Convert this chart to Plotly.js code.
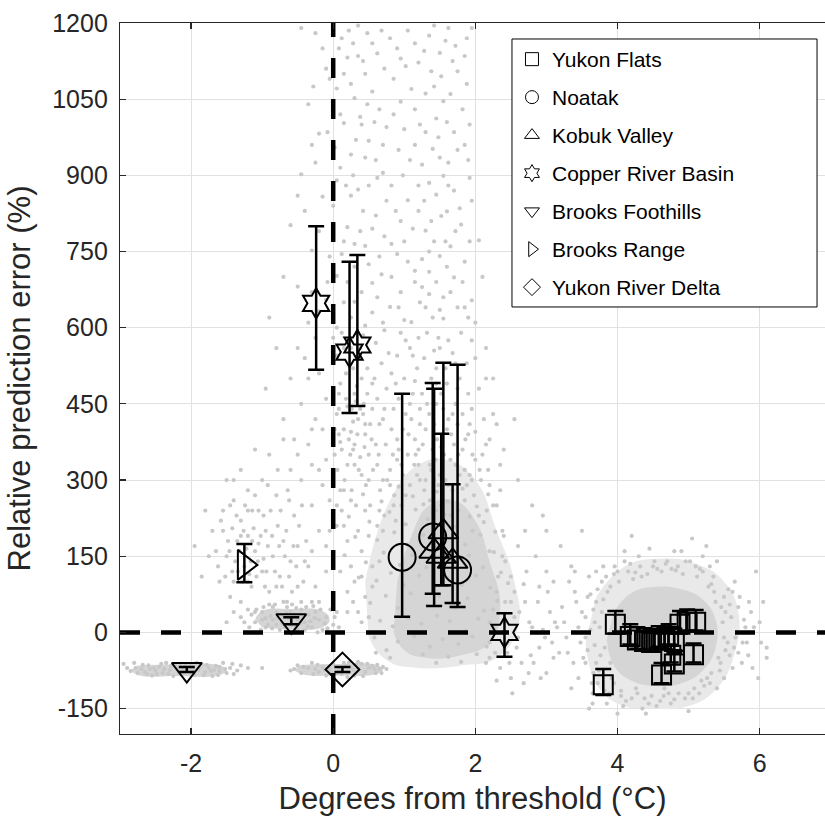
<!DOCTYPE html>
<html>
<head>
<meta charset="utf-8">
<script src="https://cdn.plot.ly/plotly-3.0.1.min.js"></script>
<style>html,body{margin:0;padding:0;background:#fff;overflow:hidden;}</style>
</head>
<body>
<div id="chart" style="width:825px;height:819px;"></div>
<script>
// ---------- DATA ----------
const regionNames = ["Yukon Flats","Noatak","Kobuk Valley","Copper River Basin","Brooks Foothills","Brooks Range","Yukon River Delta"];

// Yukon Flats (squares)
const yfX = [3.97, 3.80, 4.18, 4.28, 4.38, 4.48, 4.58, 4.66, 4.72, 4.80, 4.88, 4.98, 5.10, 5.07, 4.62, 4.80, 4.75];
const yfY = [16, -103, -8, -15, -18, -20, -12, -15, -8, -18, 16, 20, 20, -44, -84, -62, -45];
const yfUp = [26, 31, 24, 25, 26, 25, 24, 26, 24, 25, 26, 25, 24, 22, 24, 22, 20];
const yfLo = [18, 20, 16, 17, 16, 17, 16, 18, 16, 17, 18, 16, 16, 15, 16, 15, 14];

// Noatak (circles)
const noX = [0.97, 1.40, 1.75];
const noY = [148, 188, 123];
const noUp = [322, 303, 404];
const noLo = [117, 112, 73];

// Kobuk Valley (triangles up)
const kvX = [1.42, 1.55, 1.52, 1.68];
const kvY = [160, 198, 150, 140];
const kvUp = [320, 333, 241, 152];
const kvLo = [108, 105, 57, 82];

// Copper River Basin (six-pointed stars)
const crX = [-0.24, 0.23, 0.34, 2.41];
const crY = [648, 552, 566, 0];
const crUp = [152, 178, 177, 38];
const crLo = [131, 120, 120, 48];

// Brooks Foothills (triangles down)
const bfX = [-2.06, -0.59];
const bfY = [-73, 23];
const bfErr = [5, 7];

// Brooks Range (triangle right)
const brX = [-1.25];
const brY = [133];
const brUp = [41];
const brLo = [34];

// Yukon River Delta (diamond)
const ydX = [0.13];
const ydY = [-73];
const ydErr = [5];

// Background grey point cloud (estimated positions)
const cloudUpper = [
 [-0.25,1180],[0.12,1170],[0.35,1195],[0.55,1160],[1.05,1185],[1.35,1175],[1.62,1190],[1.88,1170],[0.2,1132],[-0.1,1110],
 [0.45,1100],[1.2,1122],[1.5,1141],[1.75,1105],[0.05,1071],[0.3,1052],[-0.35,1040],[0.65,1030],[1.3,1061],[1.55,1046],
 [1.45,1012],[0.15,1003],[-0.2,982],[0.5,968],[1.0,991],[1.7,985],[1.4,952],[0.25,941],[0.1,915],[-0.45,902],
 [0.7,905],[1.25,921],[1.55,899],[1.9,930],[0.35,872],[-0.15,858],[1.05,851],[1.45,862],[1.6,829],[0.6,821],
 [-0.6,802],[0.2,798],[1.3,791],[1.8,803],[2.05,772],[0.45,761],[-0.3,752],[0.9,745],[1.5,741],[1.15,712],
 [0.05,702],[0.55,688],[1.7,699],[-0.5,681],[1.35,666],[0.3,651],[1.95,654],[0.8,641],[-0.2,632],[1.55,618],
 [1.1,611],[0.45,604],[0.08,1150],[0.42,1125],[1.52,1095],[1.48,975],[0.38,1015],[0.02,955],[1.62,925],[0.18,880],
 [1.38,810],[0.72,780],[1.58,770],[0.12,745],[1.25,735],[-0.08,690],[1.45,690],[0.95,670],[0.62,660],[1.85,640],
 [0.22,1185],[0.48,1180],[0.8,1170],[1.15,1160],[1.42,1195],[1.72,1155],[0.62,1140],[0.95,1130],[1.28,1145],[1.85,1135],
 [-0.05,1090],[0.25,1080],[0.55,1065],[0.85,1090],[1.1,1070],[1.65,1060],[1.82,1030],[0.4,1000],[0.75,995],[1.22,1000],
 [1.92,1000],[-0.3,960],[0.6,930],[0.92,950],[1.15,960],[1.75,950],[0.28,900],[0.5,880],[0.82,880],[1.35,885],
 [1.7,870],[0.0,840],[0.42,830],[0.75,850],[1.2,830],[1.95,850],[-0.4,830],[0.15,770],[0.38,790],[0.65,740],
 [1.0,770],[1.42,770],[1.65,760],[1.85,730],[0.3,720],[0.82,700],[1.25,680],[1.55,660],[0.15,650],[0.7,610],
 [1.4,620],[1.75,640],[2.0,610],[-0.35,610],[-0.7,700],[-0.9,620],
 [-0.45,1190],[-0.15,1150],[0.28,1160],[0.68,1185],[0.9,1150],[1.58,1165],[1.95,1190],[0.15,1100],[0.35,1135],[0.72,1110],
 [1.02,1115],[1.38,1105],[1.68,1125],[-0.28,1075],[0.48,1040],[0.95,1045],[1.15,1030],[1.42,1075],[1.88,1080],[0.1,1020],
 [0.58,1005],[0.85,1020],[1.3,985],[1.6,1005],[-0.08,985],[0.32,970],[0.7,960],[1.08,930],[1.5,935],[1.85,960],
 [0.45,935],[-0.25,925],[0.05,890],[0.62,895],[0.98,900],[1.2,880],[1.62,880],[1.92,895],[0.25,860],[-0.5,860],
 [0.88,830],[1.28,850],[1.52,820],[1.78,835],[0.55,795],[0.95,810],[1.12,795],[1.72,790],[-0.2,790],[0.3,765],
 [0.82,765],[1.35,750],[1.92,770],[-0.05,740],[0.5,725],[1.05,730],[1.6,720],[2.1,700],[0.2,690],[0.68,705],
 [1.15,690],[1.35,710],[1.82,690],[-0.3,670],[0.4,670],[0.92,640],[1.22,650],[1.65,670],[0.55,630],[1.0,615],
 [1.3,640],[1.5,635],[1.9,620],[0.25,620],[-0.1,655]
];
const cloudMid = [
 [-0.8,560],[-0.4,540],[0.0,580],[0.25,560],[0.6,570],[0.9,545],[1.2,580],[1.5,560],[1.8,590],[2.0,540],
 [-0.95,480],[-0.6,500],[-0.2,510],[0.1,490],[0.3,470],[0.4,500],[0.2,445],[0.35,420],[0.15,400],[0.45,390],
 [0.3,370],[0.55,440],[0.75,480],[1.0,500],[1.25,470],[1.6,490],[1.9,470],[2.15,500],[-0.7,420],[-0.3,400],
 [0.05,430],[0.65,410],[0.9,380],[1.1,420],[1.3,400],[1.55,440],[1.75,410],[2.0,395],[-0.5,350],[-0.1,340],
 [0.2,330],[0.5,350],[0.8,320],[1.05,350],[1.2,330],[1.4,360],[1.65,340],[1.85,320],[2.1,350],[0.4,310],
 [0.7,300],[1.3,300],[1.5,310],[1.95,300],[0.25,395],[0.32,455],[0.42,430],[0.22,380],[0.38,345],[0.28,415],
 [0.48,470],[0.12,360],[1.45,520],[1.35,430],[1.15,380],[1.7,370],[0.85,440],[2.25,430],[2.4,360],[2.6,300],
 [2.8,250],[2.35,280],[3.0,200],[2.55,420],[-0.15,290],[-0.05,260],
 [0.05,600],[0.15,560],[0.28,520],[0.36,540],[0.48,520],[0.58,500],[0.68,530],[0.82,510],[0.95,590],[1.08,560],
 [1.18,520],[1.28,540],[1.38,500],[1.48,580],[1.58,520],[1.68,550],[1.78,500],[1.88,530],[2.05,480],[0.08,470],
 [0.18,460],[0.26,440],[0.33,485],[0.43,450],[0.52,410],[0.62,460],[0.72,440],[0.82,400],[0.92,460],[1.02,430],
 [1.12,470],[1.22,440],[1.32,450],[1.42,410],[1.52,470],[1.62,420],[1.72,450],[1.82,430],[1.92,410],[2.12,420],
 [0.02,400],[0.1,375],[0.24,350],[0.34,390],[0.44,365],[0.54,380],[0.64,350],[0.74,370],[0.84,350],[0.96,330],
 [1.06,390],[1.16,350],[1.26,370],[1.36,330],[1.46,380],[1.56,350],[1.66,390],[1.76,350],[1.86,380],[1.96,350],
 [2.06,320],[2.2,380],[0.06,320],[0.16,300],[0.26,280],[0.36,320],[0.46,290],[0.56,320],[0.66,280],[0.76,300],
 [0.86,270],[0.98,310],[1.08,290],[1.18,310],[1.28,280],[1.38,320],[1.48,290],[1.58,300],[1.68,280],[1.78,310],
 [1.88,290],[1.98,270],[2.08,300],[2.18,320],[2.3,250],
 [-0.25,580],[0.12,590],[0.42,585],[0.72,595],[1.02,575],[1.32,590],[1.62,575],[1.95,575],[-0.5,560],[0.05,545],
 [0.38,560],[0.78,550],[1.12,545],[1.42,555],[1.72,530],[2.15,560],[-0.35,500],[0.18,510],[0.55,490],[0.88,490],
 [1.15,495],[1.45,490],[1.75,480],[2.25,500],[-0.45,450],[-0.1,460],[0.08,440],[0.38,440],[0.7,420],[1.08,450],
 [1.45,450],[1.68,430],[1.95,440],[-0.25,420],[0.45,410],[0.98,400],[1.22,410],[1.6,400],[1.9,390],[2.3,410],
 [-0.35,370],[0.08,390],[0.28,360],[0.6,370],[0.92,360],[1.2,360],[1.52,365],[1.82,360],[2.15,370],[-0.2,320],
 [0.02,350],[0.3,330],[0.62,330],[0.9,340],[1.14,330],[1.44,340],[1.72,330],[2.0,340],[2.35,330],[0.15,280],
 [0.5,300],[0.8,290],[1.02,270],[1.22,300],[1.42,300],[1.62,290],[1.92,310],[2.2,290],[0.05,250],[0.25,260],
 [0.45,240],[0.65,240],[0.85,250],[1.45,240],[1.65,230],[1.85,260],[2.05,230],[2.25,250],[-0.05,200],[0.15,210],
 [0.35,200],[0.5,190],[0.7,200],[0.1,120],[0.25,130],[0.4,110],[0.55,90],[0.65,140],[0.2,80],[0.35,40],[0.5,30]
];
const cloudLow = [
 [0.1,280],[0.42,272],[0.68,258],[0.92,287],[1.12,268],[1.27,252],[1.46,277],[1.61,258],[1.82,283],[2.02,248],[2.18,272],
 [0.22,228],[0.51,218],[0.79,237],[1.02,213],[1.16,242],[1.33,223],[1.57,232],[1.71,208],[1.92,228],[2.12,217],[2.28,198],
 [0.31,188],[0.62,182],[0.86,197],[1.04,173],[1.27,192],[1.44,168],[1.66,187],[1.86,173],[2.07,192],[2.26,158],
 [0.16,152],[0.46,138],[0.71,157],[0.94,133],[1.11,152],[1.31,128],[1.52,147],[1.71,128],[1.91,152],[2.11,128],[2.36,118],
 [0.36,108],[0.61,102],[0.81,117],[0.99,93],[1.21,112],[1.41,88],[1.61,107],[1.81,93],[2.01,112],[2.21,88],[2.46,97],
 [0.52,58],[0.74,72],[0.91,48],[1.09,77],[1.32,53],[1.49,72],[1.72,48],[1.89,67],[2.12,43],[2.31,62],
 [0.66,23],[0.84,12],[1.06,28],[1.24,17],[1.46,33],[1.64,22],[1.86,3],[2.04,27],[2.26,8],
 [0.91,-18],[1.14,-8],[1.36,-28],[1.54,-13],[1.76,-23],[1.96,-8],[2.16,-28],[1.26,-43],[1.62,-48],[2.02,-43],
 [0.05,210],[-0.1,170],[0.28,60],[0.4,20],[0.58,-10],[0.75,-35],[2.4,20],[2.2,-50],[1.45,-60],[1.8,-58],
 [0.12,240],[0.32,250],[0.52,250],[0.62,210],[0.72,230],[0.88,220],[0.96,250],[1.36,260],[1.52,250],[1.76,240],
 [1.96,200],[2.16,240],[2.38,200],[2.42,140],[2.5,60],[0.2,180],[0.4,160],[0.55,130],[0.3,100],[0.45,70],
 [0.2,40],[0.6,-40],[0.8,-50],[2.45,-20]
];
const cloudStar = [
 [2.3,80],[2.5,110],[2.7,60],[2.9,90],[2.55,30],[2.8,10],[2.2,-20],[2.45,-40],[2.65,-60],[2.9,-30],
 [3.05,40],[2.35,-70],[2.6,-10],[2.75,-80],[3.1,-50],[2.15,-60],[2.5,-90],[3.0,120],[2.85,150],[2.6,170],
 [2.25,45],[2.68,95],[2.95,5],[2.38,150],[2.78,-45],[2.52,-120],[3.15,10],[2.3,-95],
 [2.2,20],[2.28,-40],[2.32,110],[2.42,60],[2.48,-60],[2.55,80],[2.58,-30],[2.62,40],[2.68,-100],[2.72,120],
 [2.76,20],[2.82,-60],[2.88,60],[2.92,-90],[2.98,-10],[3.02,80],[3.08,-20],[2.4,190],[2.7,200],[2.2,160],[2.95,230]
];
const cloudEast = [
 [3.25,20],[3.3,-40],[3.4,80],[3.45,-90],[3.5,40],[3.55,-10],[3.6,110],[3.65,-120],[3.7,60],[3.7,-60],
 [3.75,10],[3.8,130],[3.85,-140],[3.9,90],[3.95,-100],[4.0,120],[4.1,140],[4.2,-130],[4.3,150],[4.35,-150],
 [4.5,130],[4.55,-145],[4.7,140],[4.75,-140],[4.9,160],[4.95,-130],[5.1,130],[5.15,-120],[5.25,170],[5.3,-100],
 [5.35,110],[5.45,-60],[5.5,70],[5.55,-20],[5.6,30],[5.65,100],[5.7,-40],[5.8,10],[5.85,60],[5.9,-70],
 [6.0,20],[3.1,100],[3.0,-80],[3.35,130],[5.95,120],[6.1,-30],[3.6,-150],[4.0,-160],[5.4,140],[5.0,-155],
 [4.45,165],[6.1,-50],[3.2,170],[3.5,200],[4.2,190],[5.05,185],[3.55,-60],[3.62,75],[3.68,-25],[5.5,-90],
 [5.58,55],[5.62,-70],[4.05,-125],[4.65,-125],[5.22,-105],[4.25,118],[4.82,122],[5.32,95],[3.82,-115],[3.78,100],
 [3.55,30],[3.58,-35],[3.62,5],[3.66,45],[3.66,-80],[3.72,-100],[3.72,85],[3.76,-45],[3.8,65],[3.84,110],
 [3.88,-120],[3.92,-90],[3.95,115],[4.02,100],[4.05,-115],[4.12,-135],[4.15,120],[4.22,105],[4.28,-120],[4.32,130],
 [4.38,-130],[4.42,115],[4.48,-125],[4.52,140],[4.6,-135],[4.62,120],[4.68,135],[4.72,-120],[4.8,-132],[4.85,130],
 [4.92,115],[5.0,-120],[5.02,140],[5.08,-110],[5.12,110],[5.18,-95],[5.2,120],[5.28,90],[5.32,-80],[5.38,60],
 [5.42,-50],[5.48,20],[5.5,-10],[5.52,40],[5.58,-45],[5.62,80],[5.66,-10],[5.7,50],[5.75,-60],[5.78,25],
 [5.82,-20],[5.88,40],[3.48,-20],[3.42,60],[3.38,-60],[3.32,100],[3.28,-10],[3.22,50],[3.18,-40],[3.12,20],
 [3.45,10],[3.52,-50],[3.58,70],[3.64,-100],[3.68,20],[3.74,-75],[3.78,40],[3.82,-30],[3.86,80],[3.9,-60],
 [3.96,130],[4.08,-145],[4.18,135],[4.26,-110],[4.34,110],[4.44,-140],[4.56,125],[4.66,-110],[4.76,125],[4.86,-120],
 [4.96,140],[5.06,-130],[5.16,125],[5.26,-90],[5.36,80],[5.44,-75],[5.46,50],[5.52,-35],[5.56,85],[5.64,-30],
 [5.72,70],[5.76,-20],[5.84,-45],[5.92,10],[6.02,-20],[5.4,-110],[5.3,130],[3.7,120],[3.65,-140],[4.4,-160],
 [4.8,160],[5.2,150],[4.1,160],[3.4,120],[3.35,-110],[6.05,60],[5.98,-90]
];
const cloudRange = [
 [-1.55,200],[-1.5,150],[-1.45,250],[-1.4,100],[-1.35,180],[-1.3,220],[-1.25,130],[-1.2,190],[-1.15,90],[-1.1,160],
 [-1.05,240],[-1.0,120],[-0.95,200],[-0.9,80],[-0.85,150],[-0.8,270],[-0.75,110],[-0.7,180],[-0.65,60],[-0.6,140],
 [-0.55,230],[-0.5,90],[-0.45,300],[-1.3,60],[-1.0,300],[-0.9,350],[-0.7,380],[-1.2,280],[-1.6,100],[-1.45,70],
 [-0.85,50],[-1.1,40],[-0.6,320],[-0.3,250],[-0.35,130],[-1.85,110],[-1.5,300],[-1.38,140],[-1.18,115],[-1.05,175],
 [-1.32,160],[-1.12,205],[-0.98,145],[-1.42,205],[-0.78,210],[-1.22,165],
 [-1.48,180],[-1.42,120],[-1.36,230],[-1.28,100],[-1.26,200],[-1.16,140],[-1.14,240],[-1.08,110],[-1.02,190],[-0.96,90],
 [-0.92,170],[-0.88,240],[-0.82,120],[-0.76,170],[-0.72,90],[-0.66,200],[-0.62,110],[-0.56,170],[-0.52,130],[-0.48,210],
 [-0.42,100],[-0.38,180],[-0.62,260],[-0.92,290],[-1.2,240],[-1.55,240],[-1.65,160],[-1.7,200],[-0.3,160],[-0.25,90],
 [-0.2,60],[-0.45,60],[-0.3,330],[-0.55,380],[-0.15,400],[-1.3,320],[-1.1,360],
 [-1.62,130],[-1.58,220],[-1.52,110],[-1.46,160],[-1.4,260],[-1.34,120],[-1.3,190],[-1.24,250],[-1.2,100],[-1.14,180],
 [-1.1,270],[-1.06,140],[-0.98,230],[-0.94,120],[-0.86,190],[-0.8,90],[-0.74,240],[-0.68,150],[-0.64,280],[-0.58,80],
 [-0.5,170],[-0.44,250],[-0.4,140],[-1.75,150],[-1.8,240],[-1.95,170],[-0.78,320],[-1.4,300],[-0.2,200],[-0.1,120]
];
const cloudFoot = [
 [-1.3,30],[-1.2,45],[-1.1,20],[-1.0,40],[-0.95,10],[-0.9,55],[-0.85,25],[-0.8,40],[-0.75,5],[-0.7,30],
 [-0.65,50],[-0.6,15],[-0.55,35],[-0.5,5],[-0.45,45],[-0.4,20],[-0.35,35],[-0.3,10],[-0.25,40],[-0.2,25],
 [-0.15,5],[-0.1,30],[0.0,15],[0.05,40],[-0.8,15],[-0.6,40],[-0.4,5],[-1.0,25],[-0.7,60],[-0.5,25],
 [-0.88,32],[-0.72,18],[-0.52,48],[-0.32,22],[-0.62,28],[-0.42,32],[-0.28,52],[-0.12,18],[-1.15,35],[-0.95,28],
 [-1.25,20],[-1.18,10],[-1.08,45],[-1.02,5],[-0.98,50],[-0.92,15],[-0.82,55],[-0.78,28],[-0.68,10],[-0.58,55],
 [-0.54,15],[-0.48,35],[-0.38,50],[-0.36,12],[-0.26,28],[-0.22,0],[-0.18,45],[-0.08,8],[-0.04,45],[0.02,30],
 [0.08,10],[-0.66,38],[-0.46,18],[-0.86,8],[-0.3,60],[-1.4,40],[-1.5,20]
];
const cloudBandW = [
 [-2.9,-70],[-2.8,-60],[-2.75,-80],[-2.7,-72],[-2.6,-65],[-2.55,-85],[-2.5,-75],[-2.45,-68],[-2.4,-80],[-2.35,-60],
 [-2.3,-74],[-2.25,-86],[-2.2,-70],[-2.15,-62],[-2.1,-80],[-2.05,-72],[-2.0,-66],[-1.95,-84],[-1.9,-74],[-1.85,-62],
 [-1.8,-78],[-1.75,-70],[-1.7,-86],[-1.65,-66],[-1.6,-76],[-1.55,-60],[-1.5,-80],[-1.45,-70],[-1.35,-75],[-1.3,-65],
 [-1.0,-70],[-2.65,-78],[-2.0,-78],[-1.6,-68],[-2.38,-72],[-2.18,-78],[-1.88,-68],[-1.72,-76],[-2.52,-70],[-2.28,-66],
 [-2.85,-76],[-2.78,-70],[-2.68,-64],[-2.62,-82],[-2.58,-72],[-2.48,-82],[-2.42,-62],[-2.32,-82],[-2.22,-64],[-2.12,-72],
 [-2.08,-64],[-1.98,-72],[-1.92,-60],[-1.82,-84],[-1.78,-64],[-1.68,-74],[-1.62,-84],[-1.52,-72],[-1.42,-62],[-1.4,-82],
 [-1.2,-70],[-2.95,-62]
];
const cloudBandE = [
 [-0.6,-75],[-0.5,-65],[-0.45,-80],[-0.35,-70],[-0.3,-60],[-0.2,-78],[-0.15,-68],[-0.1,-85],[-0.05,-72],[0.0,-62],
 [0.05,-80],[0.1,-70],[0.15,-60],[0.2,-78],[0.25,-68],[0.3,-85],[0.35,-72],[0.4,-62],[0.45,-78],[0.5,-70],
 [0.55,-66],[0.6,-80],[0.65,-72],[0.7,-68],[-0.25,-72],[0.2,-88],[0.35,-58],[0.08,-75],[0.28,-74],[0.18,-66],
 [-0.55,-72],[-0.42,-68],[-0.28,-82],[-0.22,-64],[-0.12,-74],[-0.02,-80],[0.12,-82],[0.22,-60],[0.32,-64],[0.42,-86],
 [0.48,-62],[0.58,-72],[0.62,-64],[0.68,-80],[0.75,-72]
];
// density outlines of the cloud (outer halo, then dense cores)
const haloMainX = [0.5, 0.75, 1.2, 1.8, 2.3, 2.6, 2.55, 2.3, 2.0, 1.6, 1.2, 0.8, 0.45];
const haloMainY = [-10, -55, -70, -65, -50, 10, 100, 200, 300, 340, 330, 260, 100];
const haloEastX = [3.55, 3.7, 4.0, 4.5, 5.0, 5.4, 5.65, 5.7, 5.5, 5.1, 4.6, 4.1, 3.7];
const haloEastY = [-20, -100, -140, -150, -145, -110, -40, 40, 100, 135, 145, 130, 70];
const coreEastX = [3.85, 3.95, 4.2, 4.55, 4.9, 5.2, 5.38, 5.38, 5.2, 4.9, 4.55, 4.2, 3.95];
const coreEastY = [-15, -65, -95, -105, -100, -75, -30, 25, 65, 85, 90, 78, 40];
const coreMainX = [0.85, 1.0, 1.3, 1.8, 2.2, 2.35, 2.2, 2.0, 1.7, 1.35, 1.1, 0.9];
const coreMainY = [0, -35, -50, -45, -20, 50, 140, 220, 260, 250, 190, 100];
const coreBandWX = [-2.75, -2.2, -1.6, -1.5, -1.6, -2.2, -2.75, -2.85];
const coreBandWY = [-65, -63, -65, -74, -84, -86, -84, -74];
const coreBandEX = [-0.45, 0.1, 0.6, 0.7, 0.6, 0.1, -0.45, -0.55];
const coreBandEY = [-64, -62, -64, -73, -82, -85, -82, -73];
const coreFootX = [-1.0, -0.6, -0.15, -0.05, -0.15, -0.6, -1.0, -1.1];
const coreFootY = [10, 6, 10, 25, 42, 46, 42, 25];

// Axis tick values
const xTicks = [-2, 0, 2, 4, 6];
const yTicks = [-150, 0, 150, 300, 450, 600, 750, 900, 1050, 1200];

// ---------- BUILD ----------
const grey = '#c8c8c8';
const haloGrey = '#e9e9e9';
const coreGrey = '#d5d5d5';
const allClouds = [].concat(cloudUpper, cloudMid, cloudLow, cloudStar, cloudEast, cloudRange, cloudFoot, cloudBandW, cloudBandE);

const traces = [];
function area(x, y, col) {
  return {x: x, y: y, type: 'scatter', mode: 'lines', fill: 'toself', fillcolor: col,
    line: {width: 0, shape: 'spline', smoothing: 1.3}, hoverinfo: 'skip', showlegend: false};
}
traces.push(area(haloMainX, haloMainY, haloGrey));
traces.push(area(haloEastX, haloEastY, haloGrey));
traces.push(area(coreEastX, coreEastY, coreGrey));
traces.push(area(coreMainX, coreMainY, coreGrey));
traces.push(area(coreBandWX, coreBandWY, coreGrey));
traces.push(area(coreBandEX, coreBandEY, coreGrey));
traces.push(area(coreFootX, coreFootY, coreGrey));
traces.push({x: allClouds.map(p => p[0]), y: allClouds.map(p => p[1]), type: 'scatter', mode: 'markers',
  marker: {size: 4.2, color: grey}, hoverinfo: 'skip', showlegend: false});

// dashed reference lines at threshold and zero error
traces.push({x: [0, 0], y: [-200, 1200], type: 'scatter', mode: 'lines',
  line: {color: 'black', width: 4.5, dash: '20px,21px'}, showlegend: false, hoverinfo: 'skip'});
traces.push({x: [-3, 7], y: [0, 0], type: 'scatter', mode: 'lines',
  line: {color: 'black', width: 4.5, dash: '20px,21px'}, showlegend: false, hoverinfo: 'skip'});

function region(x, y, up, lo, symbol, size) {
  return {x: x, y: y, type: 'scatter', mode: 'markers', showlegend: false, cliponaxis: false,
    marker: {symbol: symbol, size: size, color: 'black', line: {color: 'black', width: 2}},
    error_y: {type: 'data', symmetric: false, array: up, arrayminus: lo, color: 'black', thickness: 2.5, width: 8}};
}
traces.push(region(yfX, yfY, yfUp, yfLo, 'square-open', 19));
traces.push(region(noX, noY, noUp, noLo, 'circle-open', 27));
traces.push(region(kvX, kvY, kvUp, kvLo, 'triangle-up-open', 26));
traces.push(region(crX, crY, crUp, crLo, 'hexagram-open', 23));
traces.push(region(bfX, bfY, bfErr, bfErr, 'triangle-down-open', 26));
traces.push(region(brX, brY, brUp, brLo, 'triangle-right-open', 26));
traces.push(region(ydX, ydY, ydErr, ydErr, 'diamond-open', 26));

// legend-only entries (thin small symbols like the reference legend)
const legendSymbols = ['square-open','circle-open','triangle-up-open','hexagram-open','triangle-down-open','triangle-right-open','diamond-open'];
regionNames.forEach((n, i) => {
  traces.push({x: [null], y: [null], type: 'scatter', mode: 'markers', name: n, legendgroup: 'g' + i,
    marker: {symbol: legendSymbols[i], size: 13, color: 'black', line: {color: 'black', width: 1}}});
});

const axisCol = '#262626';
const layout = {
  width: 825, height: 819,
  margin: {l: 120, r: 0, t: 23, b: 85},
  paper_bgcolor: 'white', plot_bgcolor: 'white',
  font: {family: 'Liberation Sans, Arial, sans-serif', color: axisCol},
  showlegend: true,
  xaxis: {
    range: [-3, 6.92], tickvals: xTicks, ticktext: xTicks.map(String),
    showgrid: true, gridcolor: '#e1e1e1', gridwidth: 1, zeroline: false,
    showline: true, linecolor: axisCol, linewidth: 1.2, mirror: 'ticks',
    ticks: 'inside', ticklen: 6, tickcolor: axisCol, tickwidth: 1.2,
    ticklabelstandoff: 7,
    tickfont: {size: 25, color: axisCol},
    title: {text: 'Degrees from threshold (°C)', font: {size: 31, color: axisCol}, standoff: 11}
  },
  yaxis: {
    range: [-200, 1200], tickvals: yTicks, ticktext: yTicks.map(String),
    showgrid: true, gridcolor: '#e1e1e1', gridwidth: 1, zeroline: false,
    showline: true, linecolor: axisCol, linewidth: 1.2, mirror: false,
    ticks: 'inside', ticklen: 6, tickcolor: axisCol, tickwidth: 1.2,
    ticklabelstandoff: 6,
    tickfont: {size: 25, color: axisCol},
    title: {text: 'Relative prediction error (%)', font: {size: 31, color: axisCol}, standoff: 12}
  },
  legend: {
    x: 0.556, y: 0.9775, xanchor: 'left', yanchor: 'top',
    bgcolor: 'rgba(0,0,0,0)', borderwidth: 0,
    font: {size: 21, color: '#000'},
    traceorder: 'grouped', tracegroupgap: 7.7, itemwidth: 30
  },
  shapes: [{
    type: 'rect', xref: 'paper', yref: 'paper', x0: 0.556, x1: 0.9887, y0: 0.6006, y1: 0.9775,
    fillcolor: 'white', line: {color: 'black', width: 1}, layer: 'above'
  }]
};

Plotly.newPlot('chart', traces, layout, {displayModeBar: false, staticPlot: true});
</script>
</body>
</html>
